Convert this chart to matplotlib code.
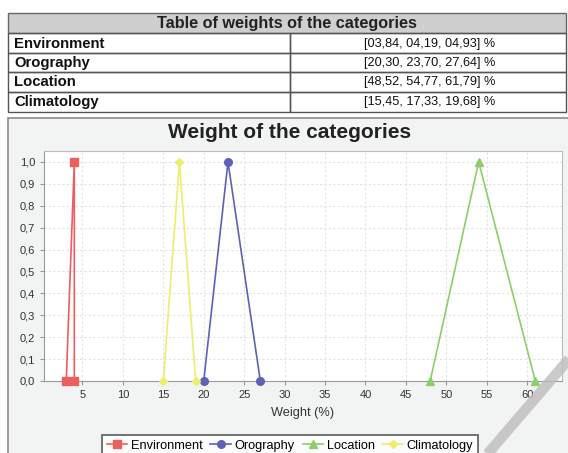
import matplotlib
matplotlib.use("Agg")
from matplotlib import pyplot as plt
from matplotlib.patches import Rectangle
from matplotlib.lines import Line2D
from matplotlib.ticker import FuncFormatter

# data
categorias = ["Environment", "Orography", "Location", "Climatology"]
pesos_txt = ["[03,84, 04,19, 04,93] %", "[20,30, 23,70, 27,64] %",
             "[48,52, 54,77, 61,79] %", "[15,45, 17,33, 19,68] %"]
env_x = [3, 4, 4]
oro_x = [20, 23, 27]
loc_x = [48, 54, 61]
cli_x = [15, 17, 19]
pert_y = [0, 1, 0]
colori = ["#ec5f60", "#5d62b5", "#8ccf6a", "#eded6e"]
marcatori = ["s", "o", "^", "D"]
x_ticks = [5, 10, 15, 20, 25, 30, 35, 40, 45, 50, 55, 60]
y_ticks = [0.0, 0.1, 0.2, 0.3, 0.4, 0.5, 0.6, 0.7, 0.8, 0.9, 1.0]

W, H = 568, 453
plt.rcParams['font.family'] = ['Liberation Sans', 'DejaVu Sans']
fig = plt.figure(figsize=(W / 100, H / 100), dpi=100)
fig.patch.set_facecolor("white")


def fx(px):
    return px / W


def fy(py):
    return 1 - py / H


def box(x0, y0, x1, y1, fc="none", ec="#555555", lw=1.0, z=-1):
    r = Rectangle((fx(x0), fy(y1)), fx(x1) - fx(x0), fy(y0) - fy(y1),
                  transform=fig.transFigure, facecolor=fc,
                  edgecolor=ec, linewidth=lw, zorder=z)
    fig.patches.append(r)


# tabella in alto
tx0, tx1, split = 8, 566, 290
box(tx0, 13, tx1, 33, fc="#cfcfcf", ec="#666666")
fig.text(fx((tx0 + tx1) / 2), fy(23.5), "Table of weights of the categories",
         ha="center", va="center", fontsize=11.7, fontweight="bold", color="#222222")
righe = [33, 53, 72, 92, 112]
for i, (c, p) in enumerate(zip(categorias, pesos_txt)):
    a, b = righe[i], righe[i + 1]
    box(tx0, a, split, b, ec="#555555")
    box(split, a, tx1, b, ec="#555555")
    fig.text(fx(tx0 + 6), fy((a + b) / 2 + 0.5), c, ha="left", va="center",
             fontsize=10.7, fontweight="bold", color="#111111")
    fig.text(fx(430), fy((a + b) / 2 + 0.5), p, ha="center", va="center",
             fontsize=9.2, color="#111111")

# pannello grafico
box(8, 118, 575, 470, fc="#f2f3f3", ec="#8a8a8a", lw=1.2, z=-2)
fig.text(fx(290), fy(133), "Weight of the categories", ha="center", va="center",
         fontsize=15, fontweight="bold", color="#222222")

ax = fig.add_axes([fx(44), fy(381), fx(562) - fx(44), fy(151) - fy(381)])
ax.set_zorder(2)
ax.set_facecolor("white")
serie = [env_x, oro_x, loc_x, cli_x]
handles = []
for xs, c, m, nome in zip(serie, colori, marcatori, categorias):
    ms = 5.5 if m != "D" else 4.2
    ax.plot(xs, pert_y, color=c, lw=1.2, marker=m, markersize=ms,
            markeredgecolor=c, clip_on=False, zorder=3)
    handles.append(Line2D([], [], color=c, lw=1.2, marker=m, markersize=ms,
                          markeredgecolor=c, label=nome))

ax.set_xlim(0.25, 64.3)
ax.set_ylim(0, 1.05)
ax.set_xticks(x_ticks)
ax.set_yticks(y_ticks)
ax.yaxis.set_major_formatter(FuncFormatter(lambda v, p: f"{v:.1f}".replace(".", ",")))
ax.tick_params(labelsize=8, colors="#999999", labelcolor="#333333", length=3, width=0.8)
ax.grid(True, color="#e2e2e2", linestyle=(0, (2, 2)), linewidth=0.8)
for s in ax.spines.values():
    s.set_color("#bbbbbb")
    s.set_linewidth(0.8)
ax.spines["left"].set_color("#999999")
ax.spines["bottom"].set_color("#999999")
ax.set_xlabel("Weight (%)", fontsize=9.2, color="#333333", labelpad=5)

leg = fig.legend(handles=handles, loc="upper center", bbox_to_anchor=(fx(290), fy(429)),
                 ncol=4, fontsize=9.2, frameon=True, fancybox=False, handlelength=1.6,
                 handletextpad=0.3, columnspacing=0.6, borderpad=0.35)
leg.set_zorder(3)
leg.get_frame().set_edgecolor("#333333")
leg.get_frame().set_linewidth(1.2)
leg.get_frame().set_facecolor("white")

# striscia grigia in basso a destra
fig.lines.append(Line2D([fx(575), fx(484)], [fy(352), fy(458)], transform=fig.transFigure,
                        color="#bdbdbd", lw=7.5, alpha=0.8, solid_capstyle="butt", zorder=10))

fig.savefig("out.png", dpi=100)
